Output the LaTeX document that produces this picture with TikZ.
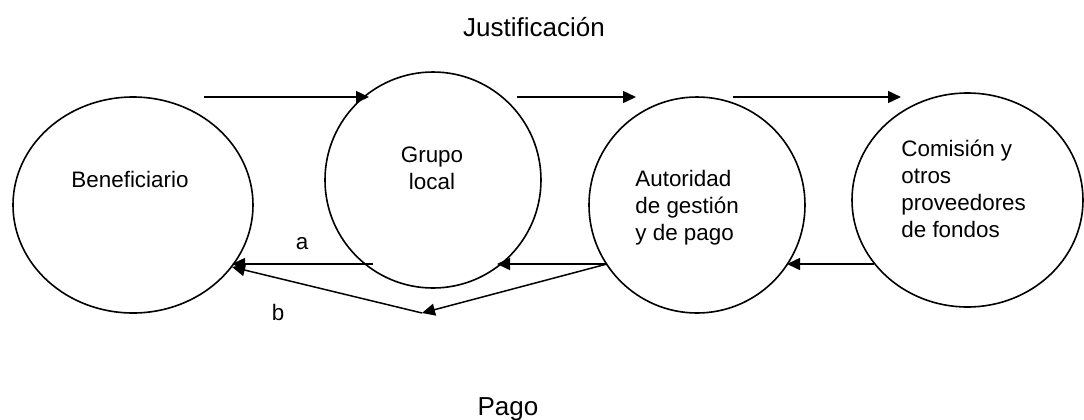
\documentclass[tikz,border=0pt]{standalone}
\usepackage{fontspec}
\setmainfont{Liberation Sans}
\usetikzlibrary{arrows.meta,shapes.geometric,positioning}

\begin{document}
\begin{tikzpicture}[x = 0.5pt, y = -0.5pt,
    actor/.style = {draw, ellipse, line width = 0.8pt, inner sep = 0pt},
    flow/.style = {-{Triangle[length = 6.5pt, width = 6pt]}, line width = 0.75pt},
    txt/.style = {font = \fontsize{11.2}{13.5}\selectfont, inner sep = 0pt},
    head/.style = {font = \fontsize{13}{15.6}\selectfont, inner sep = 0pt}]
    \useasboundingbox (0,0) rectangle (1084,419);
    \node[actor, minimum width = 120pt, minimum height = 108pt] (benef) at (133,205) {};
    \node[actor, minimum width = 108pt, minimum height = 108pt] (grupo) at (433,180) {};
    \node[actor, minimum width = 108pt, minimum height = 108pt] (autor) at (697,205) {};
    \node[actor, minimum width = 115.5pt, minimum height = 107pt] (comis) at (967.5,200) {};
    \node[txt, anchor = base] (benef txt) at (130,187) {Beneficiario};
    \node[txt, anchor = base, align = center] (grupo txt) at (432,189) {Grupo\\local};
    \node[txt, anchor = base west, align = left] (autor txt) at (635,240) {Autoridad\\de gestión\\y de pago};
    \node[txt, anchor = base west, align = left] (comis txt) at (901,237) {Comisión y\\otros\\proveedores\\de fondos};
    \node[head, anchor = base] (justif) at (534,36) {Justificación};
    \node[head, anchor = base] (pago) at (508,415) {Pago};
    \foreach \s/\e [count = \n] in {204/369, 517/636, 733/901} {
      \coordinate (j\n s) at (\s,97);
      \coordinate (j\n e) at (\e,97);
      \draw[flow] (j\n s) -- (j\n e);
    }
    \coordinate (a s) at (373,264);
    \coordinate (a e) at (232,264);
    \coordinate (p1 s) at (607,264);
    \coordinate (p1 e) at (497,264);
    \coordinate (p2 s) at (874,264);
    \coordinate (p2 e) at (787,264);
    \coordinate (b m) at (422,313);
    \coordinate (b e) at (232,267);
    \draw[flow] (a s) -- (a e);
    \draw[flow] (p1 s) -- (p1 e);
    \draw[flow] (p2 s) -- (p2 e);
    \draw[flow] (p1 s) -- (b m);
    \draw[flow] (b m) -- (b e);
    \node[txt, anchor = base] (lbl a) at (302,249) {a};
    \node[txt, anchor = base] (lbl b) at (278,320) {b};
  \end{tikzpicture}
\end{document}
